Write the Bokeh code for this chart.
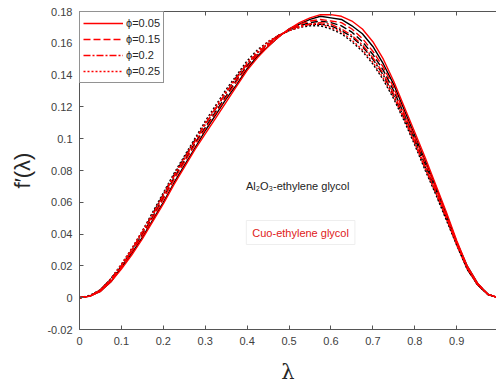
from bokeh.plotting import figure
from bokeh.models import (Range1d, Label, Legend, LegendItem, LinearAxis, FixedTicker,
                          CustomJSTickFormatter)
from bokeh.embed import file_html
from bokeh.resources import INLINE

lam = [0, .025, .05, .075, .1, .125, .15, .175, .2, .225, .25, .275, .3, .325, .35, .375,
       .4, .425, .45, .475, .5, .525, .55, .575, .6, .625, .65, .675, .7, .725, .75, .775,
       .8, .825, .85, .875, .9, .925, .95, .975, 1.0]

# CuO-ethylene glycol (red)
cuo_005 = [0, .001, .004, .010, .018, .027, .037, .048, .059, .071, .082, .093, .103, .113, .123, .133,
           .143, .151, .158, .164, .169, .173, .176, .178, .178, .177, .174, .169, .161, .150, .136, .120,
           .104, .088, .071, .054, .036, .020, .009, .002, 0]
cuo_015 = [0, .001, .004, .011, .019, .029, .039, .050, .062, .074, .085, .096, .106, .116, .126, .136,
           .145, .153, .159, .164, .169, .172, .174, .175, .174, .173, .169, .163, .155, .145, .132, .116,
           .101, .085, .069, .052, .035, .019, .009, .002, 0]
cuo_020 = [0, .001, .005, .011, .020, .030, .041, .052, .064, .076, .087, .098, .109, .119, .129, .138,
           .147, .154, .160, .165, .168, .171, .172, .173, .172, .169, .165, .159, .151, .141, .128, .114,
           .098, .082, .067, .051, .034, .019, .008, .002, 0]
cuo_025 = [0, .001, .005, .012, .021, .031, .042, .053, .065, .077, .088, .099, .110, .120, .130, .139,
           .148, .155, .161, .165, .168, .170, .172, .172, .170, .167, .162, .156, .148, .138, .126, .112,
           .097, .081, .066, .050, .033, .018, .008, .002, 0]
# Al2O3-ethylene glycol (black)
al_005 = [0, .001, .004, .010, .019, .028, .038, .049, .060, .072, .083, .094, .105, .115, .125, .134,
          .144, .152, .158, .164, .169, .172, .175, .177, .176, .175, .171, .166, .158, .147, .134, .118,
          .102, .086, .070, .053, .035, .020, .009, .002, 0]
al_015 = [0, .001, .005, .011, .020, .029, .040, .051, .063, .075, .086, .097, .107, .117, .127, .137,
          .146, .153, .159, .165, .168, .171, .173, .174, .173, .171, .167, .161, .153, .143, .130, .115,
          .100, .084, .068, .051, .034, .019, .008, .002, 0]
al_020 = [0, .001, .005, .012, .020, .030, .041, .053, .065, .077, .088, .099, .109, .119, .129, .139,
          .147, .154, .160, .165, .168, .171, .172, .172, .171, .168, .164, .158, .150, .140, .127, .113,
          .098, .082, .066, .050, .034, .018, .008, .002, 0]
al_025 = [0, .0015, .005, .012, .021, .031, .042, .054, .066, .078, .089, .100, .111, .121, .131, .140,
          .149, .156, .161, .165, .168, .170, .171, .171, .169, .166, .161, .155, .147, .137, .125, .111,
          .096, .080, .065, .049, .033, .018, .008, .002, 0]

phi_labels = ["ϕ=0.05", "ϕ=0.15", "ϕ=0.2", "ϕ=0.25"]
x_ticks = [0, .1, .2, .3, .4, .5, .6, .7, .8, .9]
y_ticks = [-0.02, 0, 0.02, 0.04, 0.06, 0.08, 0.1, 0.12, 0.14, 0.16, 0.18]

FONT = "Liberation Sans"
AX = "#262626"

p = figure(width=496, height=388, output_backend="svg", toolbar_location=None,
           x_range=Range1d(0, 0.995), y_range=Range1d(-0.02, 0.18),
           min_border_left=79, min_border_top=11, min_border_bottom=59, min_border_right=0)
p.xgrid.visible = False
p.ygrid.visible = False
p.outline_line_color = None

dashes = ["solid", "7 3", "7 2 2 2", "2 2"]
red_series = [cuo_005, cuo_015, cuo_020, cuo_025]
black_series = [al_005, al_015, al_020, al_025]
for ys, dash in zip(black_series, dashes):
    p.line(lam, ys, line_color="black", line_width=1.4, line_dash=dash)
renderers = []
for ys, dash in zip(red_series, dashes):
    r = p.line(lam, ys, line_color="#ff0000", line_width=1.4, line_dash=dash)
    renderers.append(r)
items = [LegendItem(label=lab, renderers=[r]) for r, lab in zip(renderers, phi_labels)]

legend = Legend(items=items, location="top_left", margin=0, padding=3, spacing=0,
                glyph_width=40, glyph_height=16, label_height=16, label_standoff=3,
                label_text_font=FONT, label_text_font_size="11px", label_text_color=AX,
                border_line_color=AX, border_line_width=1.2, background_fill_alpha=1)
p.add_layout(legend)

for ax in (p.xaxis[0], p.yaxis[0]):
    ax.axis_line_color = "#555555"
    ax.major_tick_line_color = "#555555"
    ax.major_tick_in = 4
    ax.major_tick_out = 0
    ax.minor_tick_line_color = None
    ax.major_label_text_font = FONT
    ax.major_label_text_font_size = "11px"
    ax.major_label_text_color = "#404040"

p.xaxis[0].ticker = FixedTicker(ticks=x_ticks)
p.yaxis[0].ticker = FixedTicker(ticks=y_ticks)
p.xaxis[0].major_label_overrides = {0: "0"}
p.yaxis[0].major_label_overrides = {0: "0", -0.02: "-0.02", 0.1: "0.1"}
p.xaxis[0].major_label_standoff = 7
p.yaxis[0].major_label_standoff = 7

p.xaxis[0].axis_label = "λ"
p.xaxis[0].axis_label_text_font = "DejaVu Serif"
p.xaxis[0].axis_label_text_font_style = "normal"
p.xaxis[0].axis_label_text_font_size = "21px"
p.xaxis[0].axis_label_text_color = AX
p.xaxis[0].axis_label_standoff = 12

p.yaxis[0].axis_label = "f′(λ)"
p.yaxis[0].axis_label_text_font = FONT
p.yaxis[0].axis_label_text_font_style = "normal"
p.yaxis[0].axis_label_text_font_size = "22px"
p.yaxis[0].axis_label_text_color = AX
p.yaxis[0].axis_label_standoff = 9

top = LinearAxis(ticker=FixedTicker(ticks=x_ticks),
                 formatter=CustomJSTickFormatter(code="return ''"),
                 axis_line_color="#555555", major_tick_line_color="#555555",
                 major_tick_in=4, major_tick_out=0, minor_tick_line_color=None,
                 major_label_standoff=0)
p.add_layout(top, "above")

p.add_layout(Label(x=0.397, y=0.070, text="Al₂O₃-ethylene glycol", text_font=FONT,
                   text_font_size="11px", text_color="#222222", text_baseline="middle"))
p.add_layout(Label(x=0.398, y=0.041, text="Cuo-ethylene glycol", text_font=FONT,
                   text_font_size="11px", text_color="#e02020", text_baseline="middle",
                   border_line_color="#eeeeee", background_fill_color="white",
                   padding=6))

open("out.html", "w").write(file_html(p, INLINE))
